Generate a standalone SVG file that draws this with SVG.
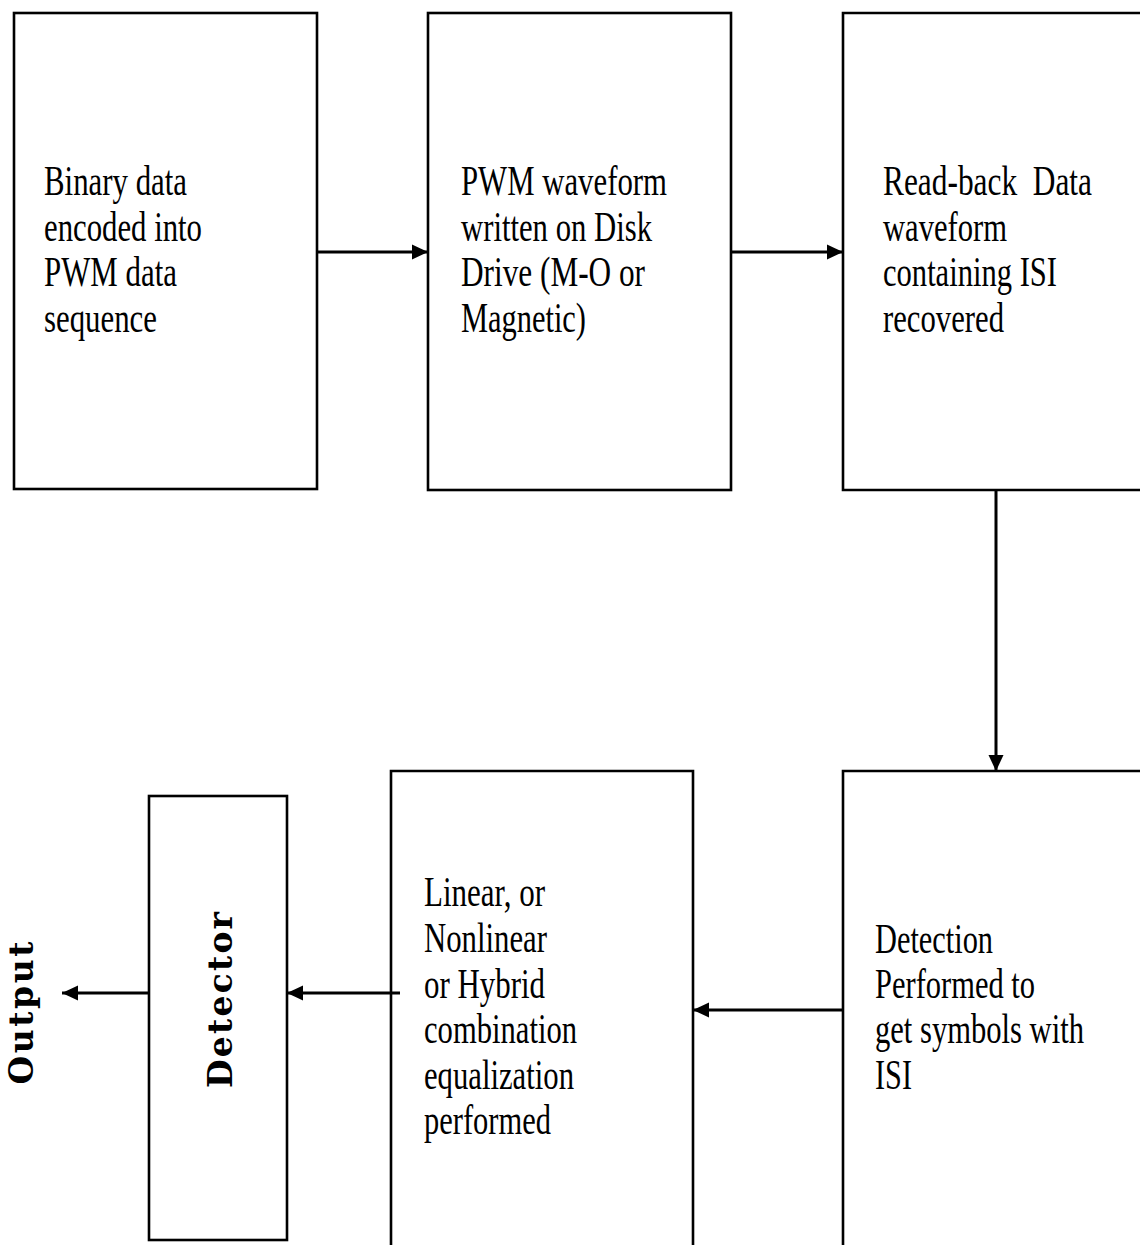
<svg xmlns="http://www.w3.org/2000/svg" width="1140" height="1245" viewBox="0 0 1140 1245">
<style>
  .box { fill: #fff; stroke: #000; stroke-width: 2.6; }
  .lbl { font-family: "Liberation Serif", "Times New Roman", serif; font-size: 42px; fill: #000; }
  .vlbl { font-family: "DejaVu Serif", "Liberation Serif", serif; font-weight: bold; font-size: 33px; fill: #000; }
  .conn { fill: none; stroke: #000; stroke-width: 3; }
</style>
<defs>
  <marker id="ah" markerUnits="userSpaceOnUse" markerWidth="17" markerHeight="17" refX="16" refY="8.5" orient="auto">
    <path d="M0,1 L16,8.5 L0,16 z" fill="#000"/>
  </marker>
</defs>
<rect width="1140" height="1245" fill="#fff"/>

<g id="node-binary">
  <rect class="box" x="14" y="13" width="303" height="476"/>
  <text class="lbl" x="44" y="195" textLength="143" lengthAdjust="spacingAndGlyphs">Binary data</text>
  <text class="lbl" x="44" y="241" textLength="158" lengthAdjust="spacingAndGlyphs">encoded into</text>
  <text class="lbl" x="44" y="286" textLength="133" lengthAdjust="spacingAndGlyphs">PWM data</text>
  <text class="lbl" x="44" y="332" textLength="113" lengthAdjust="spacingAndGlyphs">sequence</text>
</g>

<g id="node-pwm">
  <rect class="box" x="428" y="13" width="303" height="477"/>
  <text class="lbl" x="461" y="195" textLength="206" lengthAdjust="spacingAndGlyphs">PWM waveform</text>
  <text class="lbl" x="461" y="241" textLength="191" lengthAdjust="spacingAndGlyphs">written on Disk</text>
  <text class="lbl" x="461" y="286" textLength="184" lengthAdjust="spacingAndGlyphs">Drive (M-O or</text>
  <text class="lbl" x="461" y="332" textLength="125" lengthAdjust="spacingAndGlyphs">Magnetic)</text>
</g>

<g id="node-readback">
  <path class="box" d="M1142,13 H843 V490 H1142"/>
  <text class="lbl" x="883" y="195" textLength="209" lengthAdjust="spacingAndGlyphs" xml:space="preserve">Read-back  Data</text>
  <text class="lbl" x="883" y="241" textLength="124" lengthAdjust="spacingAndGlyphs">waveform</text>
  <text class="lbl" x="883" y="286" textLength="174" lengthAdjust="spacingAndGlyphs">containing ISI</text>
  <text class="lbl" x="883" y="332" textLength="121" lengthAdjust="spacingAndGlyphs">recovered</text>
</g>

<g id="node-detection">
  <path class="box" d="M1142,771 H843 V1247"/>
  <text class="lbl" x="875" y="953" textLength="118" lengthAdjust="spacingAndGlyphs">Detection</text>
  <text class="lbl" x="875" y="998" textLength="160" lengthAdjust="spacingAndGlyphs">Performed to</text>
  <text class="lbl" x="875" y="1043" textLength="209" lengthAdjust="spacingAndGlyphs">get symbols with</text>
  <text class="lbl" x="875" y="1089" textLength="37" lengthAdjust="spacingAndGlyphs">ISI</text>
</g>

<g id="node-equalization">
  <path class="box" d="M391,1247 V771 H693 V1247"/>
  <text class="lbl" x="424" y="906" textLength="121" lengthAdjust="spacingAndGlyphs">Linear, or</text>
  <text class="lbl" x="424" y="952" textLength="123" lengthAdjust="spacingAndGlyphs">Nonlinear</text>
  <text class="lbl" x="424" y="998" textLength="121" lengthAdjust="spacingAndGlyphs">or Hybrid</text>
  <text class="lbl" x="424" y="1043" textLength="153" lengthAdjust="spacingAndGlyphs">combination</text>
  <text class="lbl" x="424" y="1089" textLength="150" lengthAdjust="spacingAndGlyphs">equalization</text>
  <text class="lbl" x="424" y="1134" textLength="127" lengthAdjust="spacingAndGlyphs">performed</text>
</g>

<g id="node-detector">
  <rect class="box" x="149" y="796" width="138" height="444"/>
  <text class="vlbl" transform="translate(232,1000) rotate(-90)" x="0" y="0" text-anchor="middle" textLength="176" lengthAdjust="spacing">Detector</text>
</g>

<g id="node-output">
  <text class="vlbl" transform="translate(33,1013) rotate(-90)" x="0" y="0" text-anchor="middle" textLength="143" lengthAdjust="spacing">Output</text>
</g>

<g id="connectors">
  <path class="conn" d="M317,252 H428" marker-end="url(#ah)"/>
  <path class="conn" d="M731,252 H843" marker-end="url(#ah)"/>
  <path class="conn" d="M996,490 V771" stroke-width="2.2" marker-end="url(#ah)"/>
  <path class="conn" d="M843,1010 H693" marker-end="url(#ah)"/>
  <path class="conn" d="M400,993 H287" marker-end="url(#ah)"/>
  <path class="conn" d="M149,993 H62" marker-end="url(#ah)"/>
</g>
</svg>
